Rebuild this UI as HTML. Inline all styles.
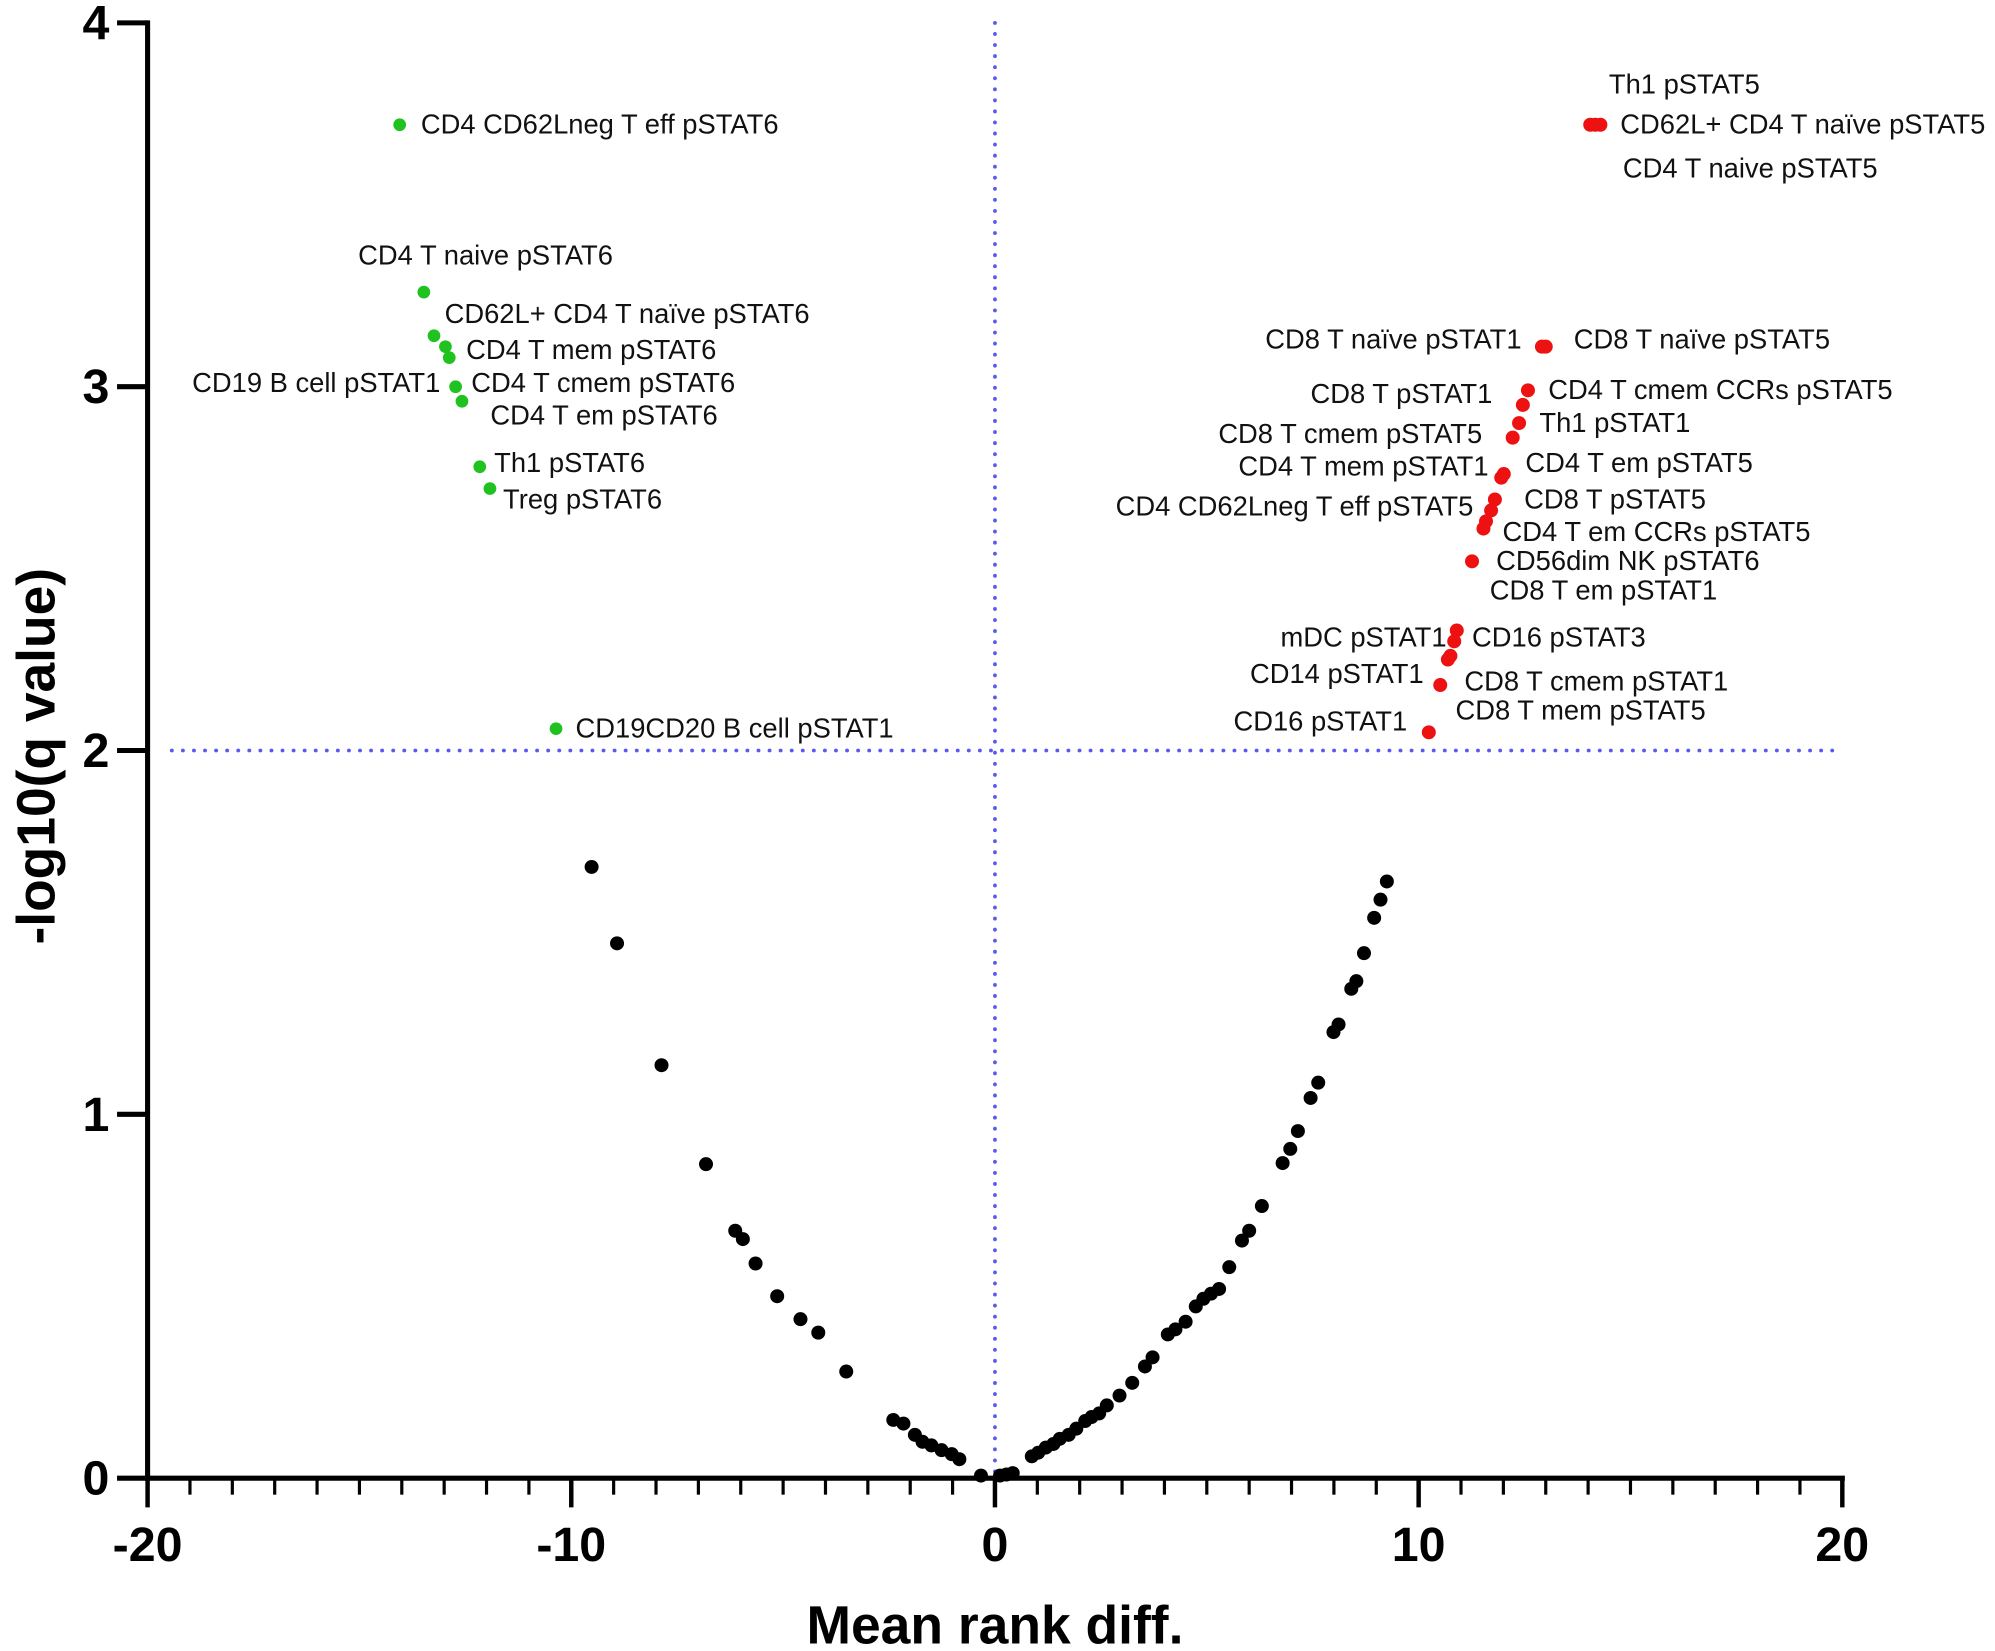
<!DOCTYPE html>
<html><head><meta charset="utf-8"><style>
html,body{margin:0;padding:0;background:#fff;}
svg{display:block;}
text{font-family:"Liberation Sans",Arial,sans-serif;}
</style></head><body>
<svg id="chart" width="1995" height="1651" viewBox="0 0 1568 1299" preserveAspectRatio="none" xmlns="http://www.w3.org/2000/svg">
<g id="grid"></g><g id="axes"></g><g id="pts"></g><g id="lbls"></g>
</svg>
<script>
const greenX=[-14.05,-13.48,-13.24,-12.97,-12.88,-12.73,-12.58,-12.16,-11.92,-10.36];
const greenY=[3.72,3.26,3.14,3.11,3.08,3.00,2.96,2.78,2.72,2.06];
const redX=[14.05,14.17,14.29,12.91,13.0,12.58,12.46,12.37,12.22,12.01,11.95,11.8,11.71,11.59,11.53,11.26,10.9,10.84,10.75,10.69,10.51,10.24];
const redY=[3.72,3.72,3.72,3.11,3.11,2.99,2.95,2.90,2.86,2.76,2.75,2.69,2.66,2.63,2.61,2.52,2.33,2.30,2.26,2.25,2.18,2.05];
const blackX=[-9.52,-8.92,-7.87,-6.82,-6.13,-5.95,-5.65,-5.14,-4.59,-4.17,-3.51,-2.40,-2.16,-1.89,-1.71,-1.50,-1.26,-1.02,-0.84,-0.33,0.12,0.27,0.42,0.87,1.02,1.2,1.38,1.53,1.74,1.92,2.13,2.28,2.46,2.64,2.94,3.24,3.54,3.72,4.08,4.26,4.5,4.74,4.92,5.1,5.29,5.53,5.83,6.0,6.3,6.79,6.97,7.15,7.45,7.63,7.99,8.11,8.41,8.53,8.71,8.95,9.1,9.25];
const blackY=[1.68,1.47,1.135,0.863,0.68,0.657,0.59,0.5,0.437,0.40,0.293,0.16,0.15,0.119,0.10,0.09,0.077,0.066,0.052,0.007,0.007,0.01,0.014,0.06,0.07,0.084,0.094,0.108,0.119,0.136,0.157,0.168,0.178,0.2,0.227,0.262,0.307,0.332,0.395,0.409,0.43,0.472,0.493,0.507,0.52,0.58,0.653,0.68,0.748,0.866,0.905,0.954,1.045,1.087,1.226,1.247,1.345,1.366,1.443,1.54,1.59,1.64];
const xTicks=[-20,-10,0,10,20];
const yTicks=[0,1,2,3,4];
const labelText=["CD4 CD62Lneg T eff pSTAT6","CD4 T naive pSTAT6","CD62L+ CD4 T naïve pSTAT6","CD4 T mem pSTAT6","CD19 B cell pSTAT1","CD4 T cmem pSTAT6","CD4 T em pSTAT6","Th1 pSTAT6","Treg pSTAT6","CD19CD20 B cell pSTAT1","Th1 pSTAT5","CD62L+ CD4 T naïve pSTAT5","CD4 T naive pSTAT5","CD8 T naïve pSTAT1","CD8 T naïve pSTAT5","CD8 T pSTAT1","CD4 T cmem CCRs pSTAT5","Th1 pSTAT1","CD8 T cmem pSTAT5","CD4 T mem pSTAT1","CD4 T em pSTAT5","CD8 T pSTAT5","CD4 CD62Lneg T eff pSTAT5","CD4 T em CCRs pSTAT5","CD56dim NK pSTAT6","CD8 T em pSTAT1","mDC pSTAT1","CD16 pSTAT3","CD14 pSTAT1","CD8 T cmem pSTAT1","CD8 T mem pSTAT5","CD16 pSTAT1"];
const labelX=[-13.55,-15.03,-12.99,-12.48,-13.09,-12.36,-11.91,-11.82,-11.61,-9.90,14.49,14.76,14.82,12.43,13.66,11.74,13.06,12.85,11.50,11.65,12.52,12.49,11.29,11.98,11.83,11.68,10.66,11.26,10.12,11.08,10.87,9.73];
const labelY=[3.72,3.36,3.20,3.10,3.01,3.01,2.92,2.79,2.69,2.06,3.83,3.72,3.60,3.13,3.13,2.98,2.99,2.90,2.87,2.78,2.79,2.69,2.67,2.60,2.52,2.44,2.31,2.31,2.21,2.19,2.11,2.08];
const labelAnchor=["start","start","start","start","end","start","start","start","start","start","start","start","start","end","start","end","start","start","end","end","start","start","end","start","start","start","end","start","end","start","start","end"];
const NS="http://www.w3.org/2000/svg";
const X=v=>782+v*33.3, Y=v=>1163-v*286.25;
function mk(tag,attrs,parent,txt){const e=document.createElementNS(NS,tag);for(const k in attrs)e.setAttribute(k,attrs[k]);if(txt!==undefined)e.textContent=txt;document.getElementById(parent).appendChild(e);return e;}
let e=mk('line',{x1:X(0),x2:X(0),y1:Y(4),y2:Y(0),stroke:'#5a5af0','stroke-width':3,'stroke-dasharray':'0.1 8.6','stroke-linecap':'round'},'grid');


e=mk('line',{x1:135,x2:1448,y1:Y(2),y2:Y(2),stroke:'#5a5af0','stroke-width':3,'stroke-dasharray':'0.1 8.6','stroke-linecap':'round'},'grid');


e=mk('line',{x1:116,x2:116,y1:Y(4)-2,y2:1165,stroke:'#000','stroke-width':4},'axes');


e=mk('line',{x1:114,x2:1450,y1:1163,y2:1163,stroke:'#000','stroke-width':4},'axes');


for(let v=-20;v<=20;v++){
  const major=v%10===0;
  e=mk('line',{x1:X(v),x2:X(v),y1:1163,y2:major?1186:1176,stroke:'#000','stroke-width':major?3.5:2.5},'axes');
  
  
}
xTicks.forEach(v=>{
  e=mk('text',{x:X(v),y:1228,'text-anchor':'middle','font-size':38,'font-weight':'bold'},'axes',String(v));
  
  
});
yTicks.forEach(v=>{
  e=mk('line',{x1:92,x2:116,y1:Y(v),y2:Y(v),stroke:'#000','stroke-width':4},'axes');
  
  
  e=mk('text',{x:86,y:Y(v)+13,'text-anchor':'end','font-size':38,'font-weight':'bold'},'axes',String(v));
  
  
});
e=mk('text',{x:782,y:1293,'text-anchor':'middle','font-size':42,'font-weight':'bold'},'axes','Mean rank diff.');


e=mk('text',{x:0,y:0,'text-anchor':'middle','font-size':42,'font-weight':'bold',transform:'translate(43,595) rotate(-90)'},'axes','-log10(q value)');


blackX.forEach((v,i)=>{e=mk('circle',{cx:X(v),cy:Y(blackY[i]),r:5.5,fill:'#000'},'pts');
  
  });
greenX.forEach((v,i)=>{e=mk('circle',{cx:X(v),cy:Y(greenY[i]),r:5,fill:'#1fc21f'},'pts');
  
  });
redX.forEach((v,i)=>{e=mk('circle',{cx:X(v),cy:Y(redY[i]),r:5.5,fill:'#ee1111'},'pts');
  
  });
labelText.forEach((t,i)=>{e=mk('text',{x:X(labelX[i]),y:Y(labelY[i])+7,'text-anchor':labelAnchor[i],'font-size':21.5,fill:'#111'},'lbls',t);
  
  });
</script>
</body></html>
